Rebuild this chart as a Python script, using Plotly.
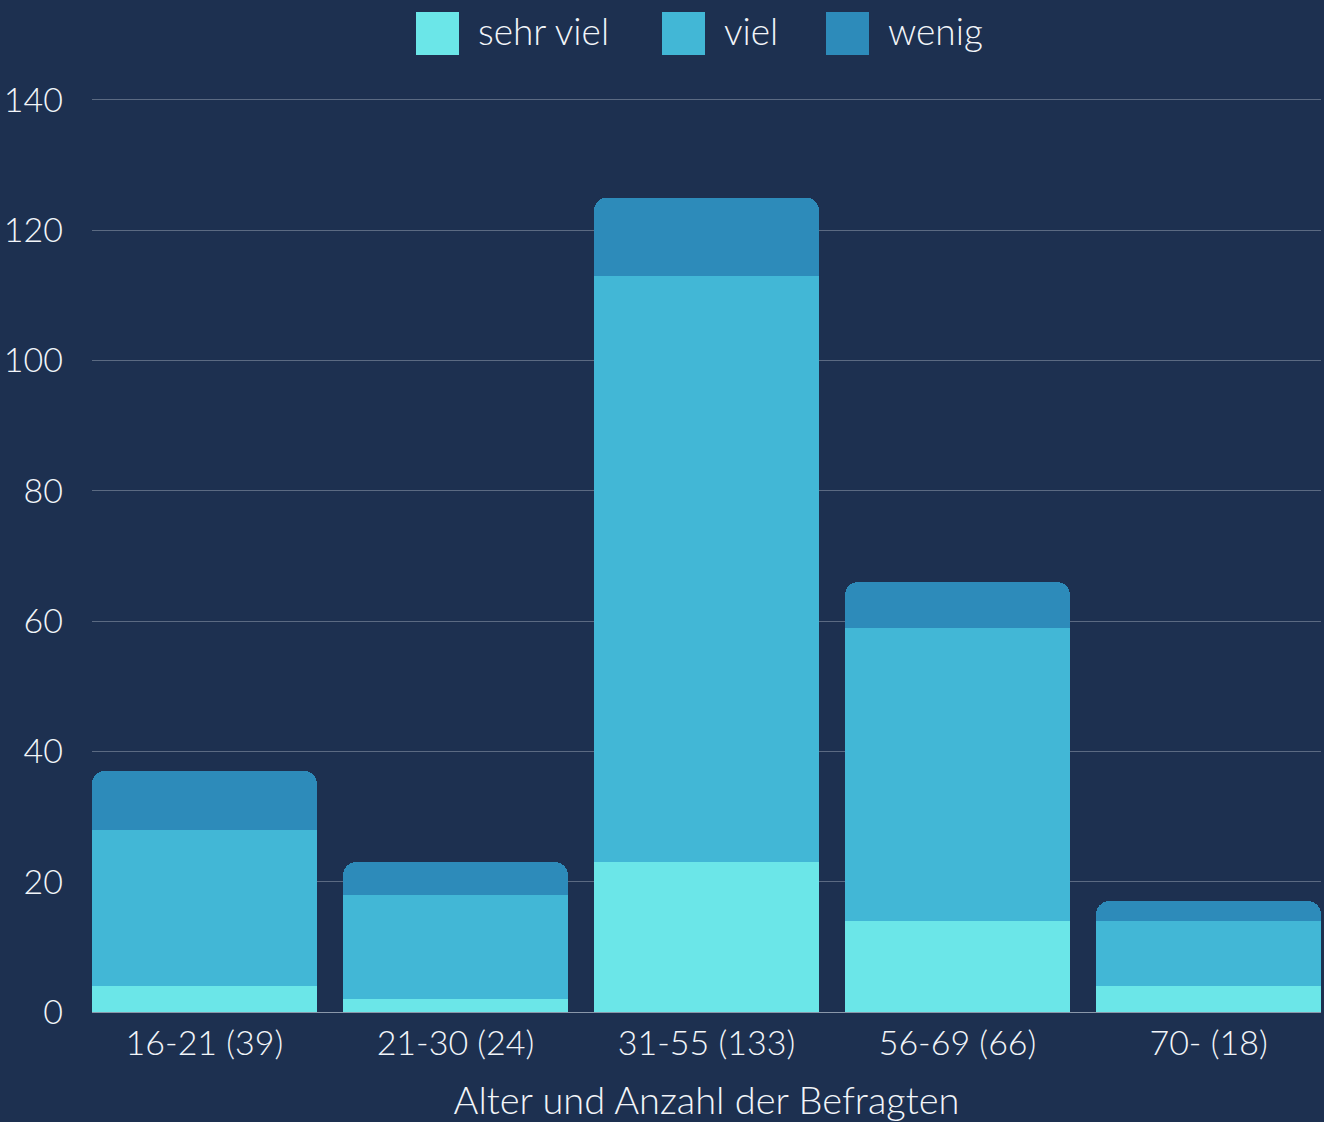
import plotly.graph_objects as go

# Age groups (with number of respondents) and answers per group
categories = ["16-21 (39)", "21-30 (24)", "31-55 (133)", "56-69 (66)", "70- (18)"]
series_names = ["sehr viel", "viel", "wenig"]
sehr_viel = [4, 2, 23, 14, 4]
viel = [24, 16, 90, 45, 10]
wenig = [9, 5, 12, 7, 3]
y_ticks = [0, 20, 40, 60, 80, 100, 120, 140]

colors = ["#6be6e8", "#42b7d6", "#2d8bba"]
bg = "#1d3050"
text_color = "#f2f5f9"
font_family = "Lato, 'Open Sans', sans-serif"
font_weight = 300

bargap = 0.104
y_max = 140.3

fig = go.Figure()
for name, values, color in zip(series_names, [sehr_viel, viel, wenig], colors):
    fig.add_trace(go.Bar(
        x=categories, y=values, name=name,
        marker=dict(color=color, line=dict(width=0)),
        showlegend=False,
    ))

# Legend drawn as large coloured squares with labels above the plot area
left, right, top, bottom = 92, 3, 98, 110
W, H = 1324, 1122
pw, ph = W - left - right, H - top - bottom
square_x = [416, 662, 826]
for name, color, sx in zip(series_names, colors, square_x):
    fig.add_shape(
        type="rect", xref="paper", yref="paper",
        x0=(sx - left) / pw, x1=(sx + 43 - left) / pw,
        y0=(H - bottom - 55) / ph, y1=(H - bottom - 12) / ph,
        fillcolor=color, line=dict(width=0), layer="above",
    )
    fig.add_annotation(
        xref="paper", yref="paper",
        x=(sx + 60 - left) / pw, y=(H - bottom - 30) / ph,
        text=name, showarrow=False, xanchor="left", yanchor="middle",
        font=dict(size=37, color=text_color, family=font_family, weight=font_weight),
    )

fig.update_layout(
    width=W, height=H,
    barmode="stack", bargap=bargap, barcornerradius=13,
    paper_bgcolor=bg, plot_bgcolor=bg,
    margin=dict(l=left, r=right, t=top, b=bottom),
    font=dict(family=font_family, color=text_color, size=34, weight=font_weight),
    xaxis=dict(
        # outer bars sit flush against the plot edges
        range=[-0.5 + bargap / 2, len(categories) - 0.5 - bargap / 2],
        title=dict(text="Alter und Anzahl der Befragten",
                   font=dict(size=38, color=text_color, weight=font_weight), standoff=27),
        tickfont=dict(size=34, color=text_color, weight=font_weight),
        showgrid=False, showline=False, zeroline=False,
        ticklabelstandoff=8,
    ),
    yaxis=dict(
        range=[0, y_max], tickvals=y_ticks,
        tickfont=dict(size=34, color=text_color, weight=font_weight),
        gridcolor="#5b6a82", gridwidth=1.3,
        zeroline=True, zerolinecolor="#8a97aa", zerolinewidth=1.3,
        showline=False, ticklabelstandoff=28,
    ),
)

fig.write_html("out.html")
